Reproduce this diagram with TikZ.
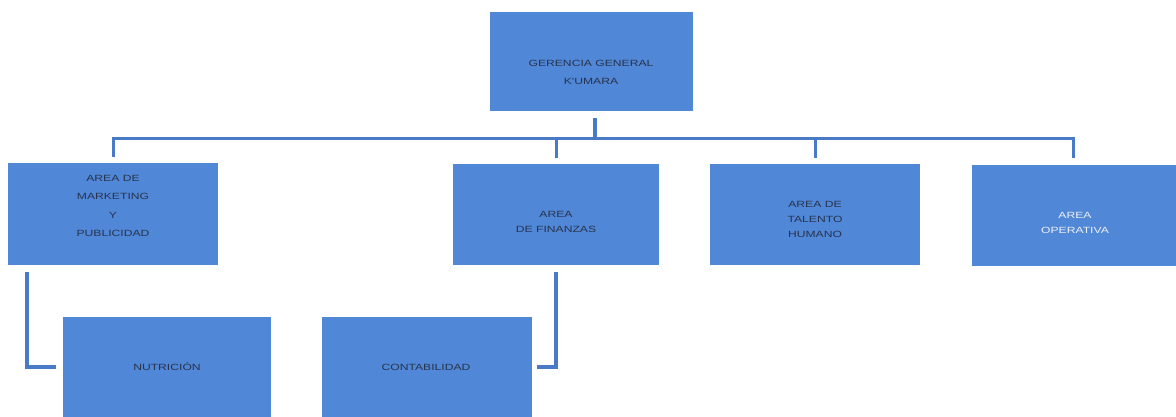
\documentclass[tikz,border=0pt]{standalone}
\usepackage{fontspec}
\newfontfamily\boxfont[FakeStretch=1.35]{Liberation Sans}
\definecolor{boxblue}{RGB}{80,135,214}
\definecolor{lineblue}{RGB}{72,122,200}
\definecolor{txtdark}{RGB}{40,52,80}
\definecolor{txtlight}{RGB}{236,240,248}
\begin{document}
\begin{tikzpicture}[x=1pt,y=-1pt,
  box/.style={fill=boxblue, draw=none, inner sep=0pt, minimum width=#1, minimum height=100pt},
  lbl/.style={font=\boxfont\fontsize{9}{15}\selectfont, text=txtdark, align=center, inner sep=0pt},
  conn/.style={draw=lineblue, line width=3.5pt, line join=miter},
  gapend/.style={shorten >=6pt},
  gapstart/.style={shorten <=7pt}]
\useasboundingbox (0,0) rectangle (1176,416);
\begin{scope}
\clip (0,0) rectangle (1176,416);
% boxes
\node[box=203pt, minimum height=99pt] (ger) at (591.5,61.5) {};
\node[box=210pt, minimum height=102pt] (mkt) at (113,214) {};
\node[box=206pt, minimum height=101pt] (fin) at (556,214.5) {};
\node[box=210pt, minimum height=101pt] (tal) at (815,214.5) {};
\node[box=206pt, minimum height=101pt] (ope) at (1075,215) {};
\node[box=208pt] (nut) at (167,367) {};
\node[box=210pt] (con) at (427,367) {};
% labels
\node[lbl, font=\boxfont\fontsize{9}{18}\selectfont] (gerT) at (591,72) {GERENCIA GENERAL\\K'UMARA};
\node[lbl, font=\boxfont\fontsize{9}{18.3}\selectfont] (mktT) at (113,206) {AREA DE\\MARKETING\\Y\\PUBLICIDAD};
\node[lbl] (finT) at (556,222) {AREA\\DE FINANZAS};
\node[lbl] (talT) at (815,219) {AREA DE\\TALENTO\\HUMANO};
\node[lbl, text=txtlight] (opeT) at (1075,222.5) {AREA\\OPERATIVA};
\node[lbl, text height=6.45pt, text depth=0pt] (nutT) at (167,367) {NUTRICIÓN};
\node[lbl, text height=6.45pt, text depth=0pt] (conT) at (426,367) {CONTABILIDAD};
% connectors
\coordinate (busy) at (0,138);
\draw[conn, gapstart] ([xshift=3.5pt]ger.south) -- ([xshift=3.5pt]ger.south |- busy);
\draw[conn, line width=3pt, shorten >=6pt, shorten <=6pt] (mkt.north) -- (mkt.north |- busy) -- ([xshift=-2pt]ope.north |- busy) -- ([xshift=-2pt]ope.north);
\draw[conn, line width=3pt, gapend] (fin.north |- busy) -- (fin.north);
\draw[conn, line width=3pt, gapend] (tal.north |- busy) -- (tal.north);
\draw[conn, gapstart, shorten >=7pt] ([xshift=19pt]mkt.south west) |- (nut.west);
\draw[conn, gapstart, shorten >=5pt] (fin.south) |- (con.east);
\end{scope}
\end{tikzpicture}
\end{document}
